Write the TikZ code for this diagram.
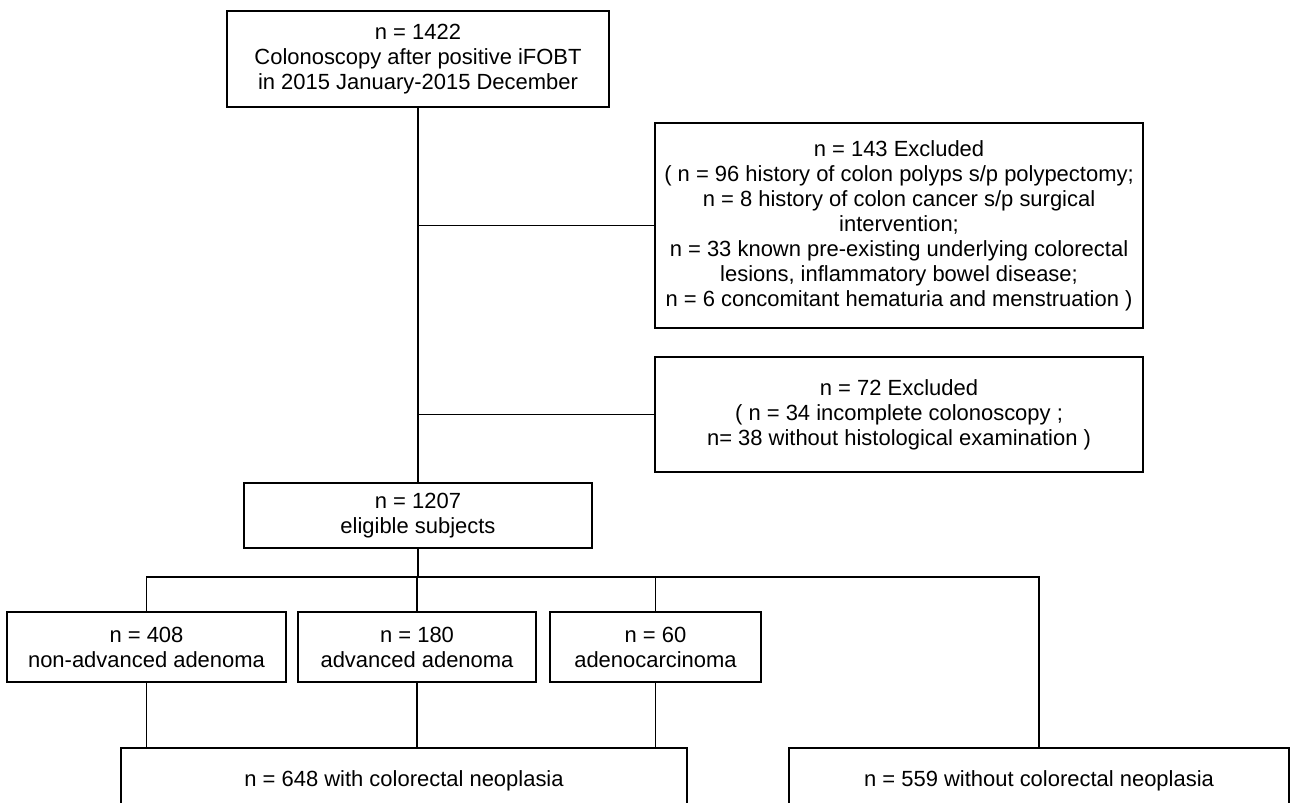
\documentclass[tikz,border=0pt]{standalone}
\usepackage{fontspec}
\setmainfont{Liberation Sans}
\usetikzlibrary{positioning, calc}

\begin{document}
\begin{tikzpicture}[
  x=0.02cm, y=-0.02cm,
  every node/.style={font=\fontsize{12.5}{14.2}\selectfont},
  box/.style={
    draw=black, line width=1.4pt, fill=white,
    align=center, inner sep=0pt
  },
  line/.style={draw=black, line width=1.1pt}
]
  \useasboundingbox (0,0) rectangle (1290,803);
  \clip (0,0) rectangle (1290,803);

  % Nodi principali (colonna centrale)
  \node[box, minimum width=7.64cm, minimum height=1.92cm] (start) at (418,59)
    {n = 1422\\ Colonoscopy after positive iFOBT\\ in 2015 January-2015 December};
  \node[box, minimum width=6.96cm, minimum height=1.3cm] (eligible) at (418,515.5)
    {n = 1207\\ eligible subjects};

  % Nodi laterali (esclusi)
  \node[box, minimum width=9.76cm, minimum height=4.1cm] (excl1) at (899,225.5)
    {n = 143 Excluded\\
     ( n = 96 history of colon polyps s/p polypectomy;\\
     n = 8 history of colon cancer s/p surgical\\
     intervention;\\
     n = 33 known pre-existing underlying colorectal\\
     lesions, inflammatory bowel disease;\\
     n = 6 concomitant hematuria and menstruation )};
  \node[box, minimum width=9.76cm, minimum height=2.3cm] (excl2) at (899,414.5)
    {n = 72 Excluded\\
     ( n = 34 incomplete colonoscopy ;\\
     n= 38 without histological examination )};

  % Istologia
  \node[box, minimum width=5.58cm, minimum height=1.4cm] (nonadv) at (146.5,647)
    {n = 408\\ non-advanced adenoma};
  \node[box, minimum width=4.76cm, minimum height=1.4cm] (adv) at (417,647)
    {n = 180\\ advanced adenoma};
  \node[box, minimum width=4.22cm, minimum height=1.4cm] (carc) at (655.5,647)
    {n = 60\\ adenocarcinoma};

  % Esiti finali
  \node[box, minimum width=11.32cm, minimum height=1.32cm] (withneo) at (404,781)
    {n = 648 with colorectal neoplasia};
  \node[box, minimum width=10cm, minimum height=1.32cm] (without) at (1039,781)
    {n = 559 without colorectal neoplasia};

  \coordinate (split) at (418,577);

  % Linee
  \draw[line] (start) -- (eligible);
  \draw[line] (excl1.west) -- (excl1.west -| start.south);
  \draw[line] (excl2.west) -- (excl2.west -| start.south);
  \draw[line] (eligible.south) -- (split);
  \draw[line] (nonadv.north) |- (split) -| (without.north);
  \draw[line] (adv.north) -- (adv.north |- split);
  \draw[line] (carc.north) -- (carc.north |- split);
  \draw[line] (nonadv.south) -- (nonadv.south |- withneo.north);
  \draw[line] (adv.south) -- (adv.south |- withneo.north);
  \draw[line] (carc.south) -- (carc.south |- withneo.north);

\end{tikzpicture}
\end{document}
